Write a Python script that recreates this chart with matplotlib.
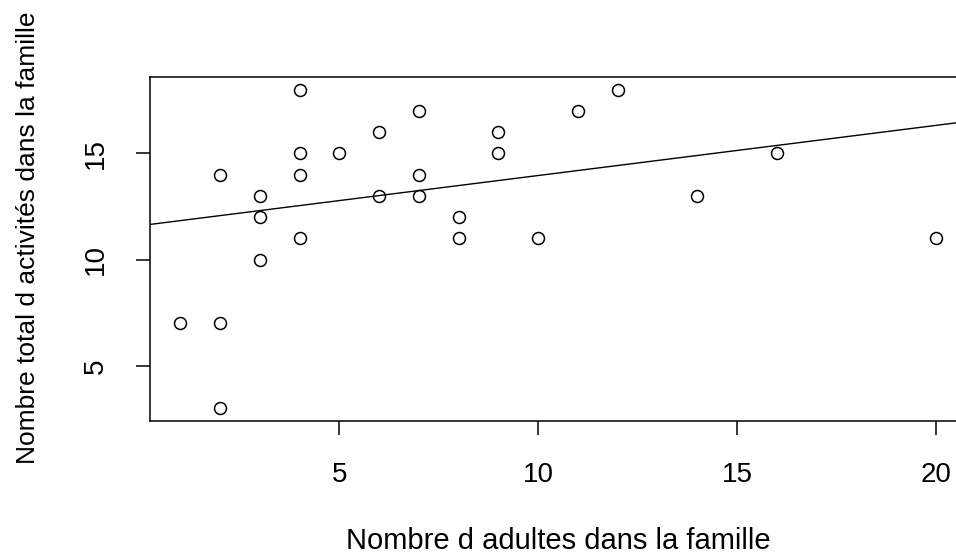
import matplotlib.pyplot as plt

plt.rcParams['font.family'] = ['Liberation Sans', 'DejaVu Sans']

# adultes / activites par famille
adultes = [1, 2, 2, 2, 3, 3, 3, 4, 4, 4, 4, 5, 6, 6, 7, 7, 7, 8, 8, 9, 9, 10, 11, 12, 14, 16, 20]
activites = [7, 14, 7, 3, 13, 12, 10, 18, 15, 14, 11, 15, 16, 13, 17, 14, 13, 12, 11, 16, 15, 11, 17, 18, 13, 15, 11]

# droite de regression
intercept = 11.6
pente = 0.236

xticks = [5, 10, 15, 20]
yticks = [5, 10, 15]

W, H = 956, 555
fig = plt.figure(figsize=(W / 100, H / 100), dpi=100)
# the plot box runs a little past the right edge of the picture
ax = fig.add_axes([150 / W, (H - 421) / H, (966 - 150) / W, (421 - 77) / H])

ax.plot(adultes, activites, 'o', mfc='none', mec='black', ms=8.6, mew=1.1)
ax.axline((0, intercept), slope=pente, color='black', lw=1.0)

ax.set_xlim(0.24, 20.76)
ax.set_ylim(2.4, 18.6)
ax.set_xticks(xticks)
ax.set_yticks(yticks)

for s in ax.spines.values():
    s.set_linewidth(1.1)
ax.tick_params(length=10, width=1.1, pad=19.5, labelsize=20, colors='black')
for lab in ax.get_yticklabels():
    lab.set_rotation(90)
    lab.set_va('center')
    lab.set_ha('right')

ax.set_xlabel('Nombre d adultes dans la famille', fontsize=21, va='baseline')
ax.xaxis.set_label_coords(0.5, (421 - 549) / 344)
ax.set_ylabel('Nombre total d activités dans la famille', fontsize=19, va='center')
ax.yaxis.set_label_coords((28 - 150) / 816, (421 - 238) / 344)

fig.savefig('out.png', dpi=100)
